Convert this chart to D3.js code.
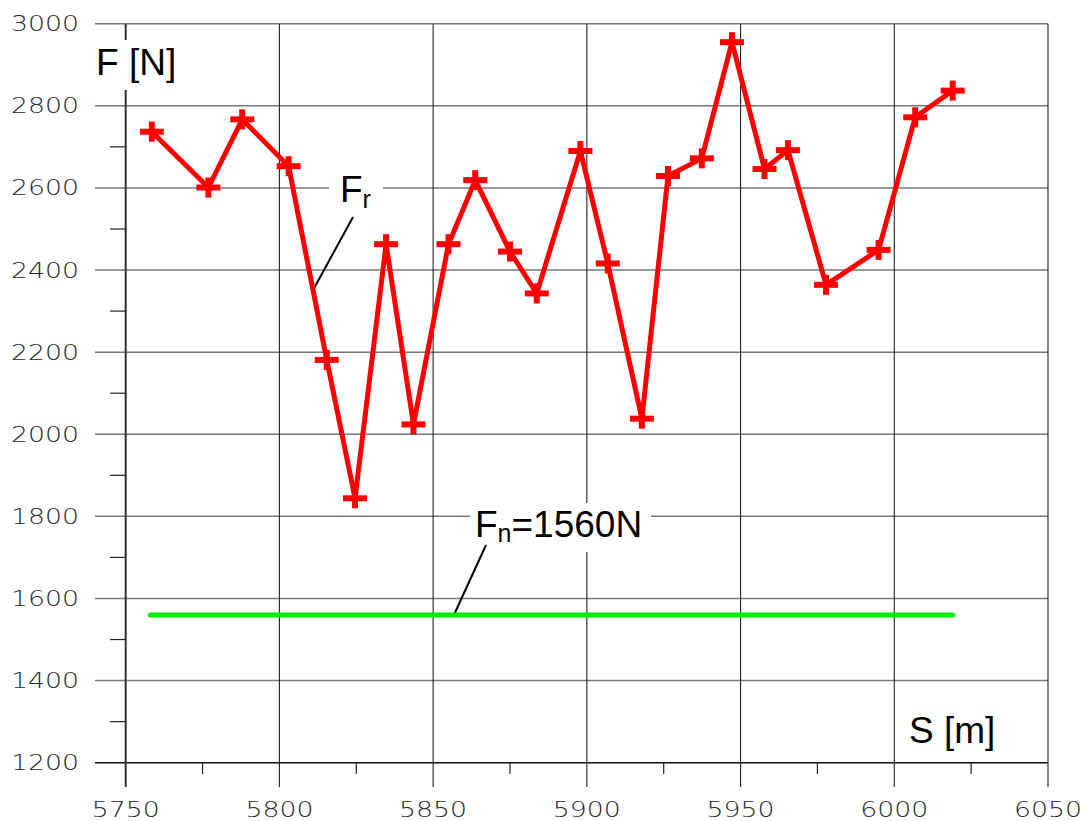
<!DOCTYPE html>
<html><head><meta charset="utf-8">
<script src="https://cdn.jsdelivr.net/npm/d3@7"></script>
<style>html,body{margin:0;padding:0;background:#fff;}svg{display:block;}</style>
</head><body>
<svg id="c" width="1087" height="821"></svg>
<script>
// Data
const sValues = [5758.5, 5776.9, 5787.9, 5803.0, 5815.4, 5824.6, 5834.7, 5843.6, 5855.0, 5863.7, 5875.0, 5883.7,
                 5897.9, 5906.8, 5917.9, 5926.4, 5937.4, 5947.2, 5957.8, 5965.4, 5977.8, 5994.9, 6006.8, 6019.0];
const frValues = [2737, 2601, 2767, 2653, 2181, 1844, 2463, 2024, 2463, 2619, 2445, 2343,
                  2690, 2416, 2038, 2629, 2672, 2955, 2646, 2692, 2364, 2449, 2772, 2837];
const fnValue = 1560;
const fnRange = [5758, 6019];
const xTicks = [5750, 5800, 5850, 5900, 5950, 6000, 6050];
const xMinor = [5775, 5825, 5875, 5925, 5975, 6025];
const yTicks = [1200, 1400, 1600, 1800, 2000, 2200, 2400, 2600, 2800, 3000];
const yMinor = [1300, 1500, 1700, 1900, 2100, 2300, 2500, 2700, 2900];

const svg = d3.select("#c");
const x = d3.scaleLinear().domain([5750, 6050]).range([125.7, 1048]);
const y = d3.scaleLinear().domain([1200, 3000]).range([762.7, 23.7]);

const g = svg.append("g");

// horizontal grid lines (extend left as major ticks)
g.selectAll(".hg").data(yTicks).join("line")
  .attr("x1", 95).attr("x2", x(6050))
  .attr("y1", d => y(d)).attr("y2", d => y(d))
  .attr("stroke", d => d === 1200 ? "#111" : "#777").attr("stroke-width", 1.5);
// vertical grid lines (extend down as major ticks)
g.selectAll(".vg").data(xTicks).join("line")
  .attr("x1", d => x(d)).attr("x2", d => x(d))
  .attr("y1", y(3000)).attr("y2", 787)
  .attr("stroke", d => d === 5750 ? "#333" : "#222")
  .attr("stroke-width", d => d === 5750 ? 2 : 1.1);
// minor ticks
g.selectAll(".ym").data(yMinor).join("line")
  .attr("x1", 110).attr("x2", x(5750))
  .attr("y1", d => y(d)).attr("y2", d => y(d))
  .attr("stroke", "#222").attr("stroke-width", 1.2);
g.selectAll(".xm").data(xMinor).join("line")
  .attr("x1", d => x(d)).attr("x2", d => x(d))
  .attr("y1", y(1200)).attr("y2", 774)
  .attr("stroke", "#222").attr("stroke-width", 1.2);

// tick labels
const tickFont = "'DejaVu Sans', sans-serif";
g.selectAll(".yl").data(yTicks).join("text")
  .attr("x", 11).attr("y", d => y(d) + 7.5)
  .attr("textLength", 68).attr("lengthAdjust", "spacingAndGlyphs")
  .attr("font-family", tickFont).attr("font-weight", 300).attr("font-size", 20.5)
  .attr("fill", "#2a2a2a").text(d => d);
g.selectAll(".xl").data(xTicks).join("text")
  .attr("x", d => x(d) - 34).attr("y", 817)
  .attr("textLength", 68).attr("lengthAdjust", "spacingAndGlyphs")
  .attr("font-family", tickFont).attr("font-weight", 300).attr("font-size", 20.5)
  .attr("fill", "#2a2a2a").text(d => d);

const lblFont = "'Liberation Sans', Arial, sans-serif";
// white boxes behind labels
const boxes = [[88, 40, 94, 50], [329, 165, 54, 48], [470, 503, 181, 49]];
g.selectAll(".bx").data(boxes).join("rect")
  .attr("x", d => d[0]).attr("y", d => d[1]).attr("width", d => d[2]).attr("height", d => d[3])
  .attr("fill", "#fff");

g.append("text").attr("x", 96).attr("y", 75).attr("font-family", lblFont).attr("font-size", 37)
  .attr("fill", "#000").text("F [N]");
g.append("text").attr("x", 909).attr("y", 743).attr("font-family", lblFont).attr("font-size", 37)
  .attr("fill", "#000").text("S [m]");

const fr = g.append("text").attr("x", 340).attr("y", 202).attr("font-family", lblFont).attr("font-size", 37).attr("fill", "#000");
fr.append("tspan").text("F");
fr.append("tspan").attr("font-size", 25).attr("dy", 6).text("r");

const fn = g.append("text").attr("x", 475).attr("y", 537).attr("font-family", lblFont).attr("font-size", 37).attr("fill", "#000");
fn.append("tspan").text("F");
fn.append("tspan").attr("font-size", 25).attr("dy", 5).text("n");
fn.append("tspan").attr("dy", -5).text("=1560N");

// leader lines
g.append("line").attr("x1", 353).attr("y1", 217).attr("x2", 312).attr("y2", 292).attr("stroke", "#000").attr("stroke-width", 2);
g.append("line").attr("x1", 486).attr("y1", 545).attr("x2", 453).attr("y2", 617).attr("stroke", "#000").attr("stroke-width", 2);

// Fn line
g.append("line")
  .attr("x1", x(fnRange[0])).attr("x2", x(fnRange[1]))
  .attr("y1", y(fnValue)).attr("y2", y(fnValue))
  .attr("stroke", "#00ee00").attr("stroke-width", 5).attr("stroke-linecap", "round");

// Fr line
const pts = sValues.map((s, i) => [s, frValues[i]]);
g.append("path").datum(pts)
  .attr("d", d3.line().x(d => x(d[0])).y(d => y(d[1])))
  .attr("fill", "none").attr("stroke", "#ff0000").attr("stroke-width", 5).attr("stroke-linejoin", "round");
const mk = g.selectAll(".mk").data(pts).join("g")
  .attr("transform", d => `translate(${x(d[0])},${y(d[1])})`);
mk.append("line").attr("x1", -12).attr("x2", 12).attr("y1", 0).attr("y2", 0).attr("stroke", "#ff0000").attr("stroke-width", 6);
mk.append("line").attr("x1", 0).attr("x2", 0).attr("y1", -10).attr("y2", 10).attr("stroke", "#ff0000").attr("stroke-width", 6);
</script>
</body></html>
